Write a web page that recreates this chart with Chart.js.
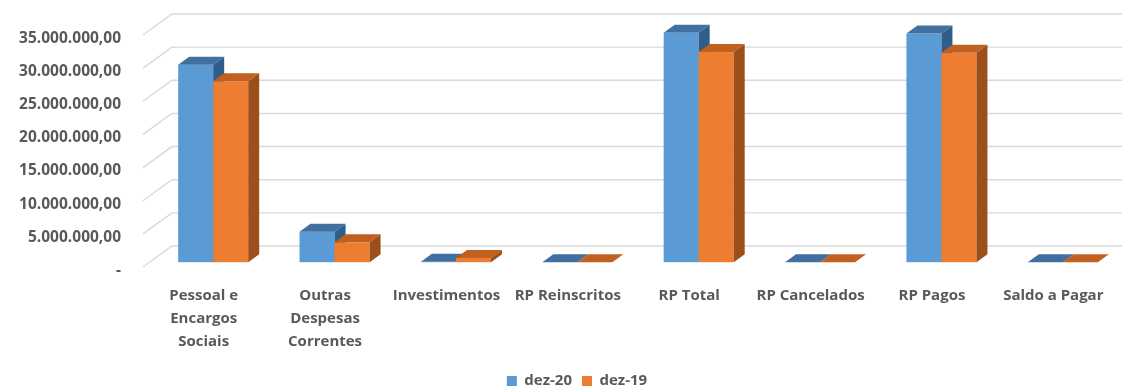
<!DOCTYPE html>
<html>
<head>
<meta charset="utf-8">
<script src="https://cdn.jsdelivr.net/npm/chart.js@4/dist/chart.umd.min.js"></script>
<style>
  html, body { margin: 0; padding: 0; background: #ffffff; }
  #wrap { width: 1125px; height: 389px; position: relative; }
</style>
</head>
<body>
<div id="wrap"><canvas id="chart" width="1125" height="389"></canvas></div>
<script>
// Categories (multi-line labels for the longer names)
const categories = [
  ['Pessoal e', 'Encargos', 'Sociais'],
  ['Outras', 'Despesas', 'Correntes'],
  'Investimentos',
  'RP Reinscritos',
  'RP Total',
  'RP Cancelados',
  'RP Pagos',
  'Saldo a Pagar'
];

// Amounts in R$
const dez20 = [29800000, 4600000, 60000, 0, 34600000, 0, 34500000, 0];
const dez19 = [27300000, 3000000, 650000, 0, 31700000, 0, 31600000, 0];

const seriesNames = ['dez-20', 'dez-19'];

// Value-axis labels, from 0 up to 35 million in steps of 5 million
const yTickLabels = ['-', '5.000.000,00', '10.000.000,00', '15.000.000,00',
  '20.000.000,00', '25.000.000,00', '30.000.000,00', '35.000.000,00'];

const FONT = '"Open Sans", "DejaVu Sans", sans-serif';
const TEXT = '#595959';

// Oblique projection offsets
const WALL = { dx: 29, dy: -21 };     // back wall relative to front plane
const SHIFT = { dx: 9.5, dy: -4.8 };  // bar front faces relative to front plane
const DEPTH = { dx: 11, dy: -8 };     // bar thickness

const faces = [
  { front: '#5B9BD5', top: '#40709F', side: '#2F5E8C' },
  { front: '#ED7D31', top: '#C2611F', side: '#9C4F1B' }
];

function drawBlock(ctx, p, f) {
  const l = p.x - p.width / 2, r = p.x + p.width / 2;
  const t = Math.min(p.y, p.base), b = Math.max(p.y, p.base);
  ctx.fillStyle = f.front;
  ctx.fillRect(l, t, r - l, b - t);
  ctx.fillStyle = f.top;
  ctx.beginPath();
  ctx.moveTo(l, t);
  ctx.lineTo(l + DEPTH.dx, t + DEPTH.dy);
  ctx.lineTo(r + DEPTH.dx, t + DEPTH.dy);
  ctx.lineTo(r, t);
  ctx.closePath();
  ctx.fill();
  ctx.fillStyle = f.side;
  ctx.beginPath();
  ctx.moveTo(r, t);
  ctx.lineTo(r + DEPTH.dx, t + DEPTH.dy);
  ctx.lineTo(r + DEPTH.dx, b + DEPTH.dy);
  ctx.lineTo(r, b);
  ctx.closePath();
  ctx.fill();
}

const threeD = {
  id: 'threeD',
  afterLayout(chart) {
    // legend sits a little right of the canvas centre, close to the bottom edge
    const lg = chart.legend;
    const h = lg.bottom - lg.top;
    lg.left += 20; lg.right += 20;
    lg.top = 381 - 10 - 7.5; lg.bottom = lg.top + h;
  },
  beforeDatasetsDraw(chart) {
    const ctx = chart.ctx;
    const y = chart.scales.y;
    const left = chart.chartArea.left;

    // side wall diagonals and back wall gridlines
    ctx.save();
    ctx.strokeStyle = '#D9D9D9';
    ctx.lineWidth = 1.4;
    for (let i = 0; i < yTickLabels.length; i++) {
      const py = y.getPixelForValue(i * 5000000);
      ctx.beginPath();
      ctx.moveTo(left, py);
      ctx.lineTo(left + WALL.dx, py + WALL.dy);
      ctx.lineTo(chart.width - 3, py + WALL.dy);
      ctx.stroke();
    }
    ctx.restore();

    // bars as blocks: dez-20 first, then dez-19 beside it
    ctx.save();
    ctx.translate(SHIFT.dx, SHIFT.dy);
    [0, 1].forEach(i => {
      chart.getDatasetMeta(i).data.forEach(bar => {
        drawBlock(ctx, bar.getProps(['x', 'y', 'base', 'width'], true), faces[i]);
      });
    });
    ctx.restore();
    // the flat default rectangles are replaced by the blocks above
    return false;
  }
};

new Chart(document.getElementById('chart'), {
  type: 'bar',
  data: {
    labels: categories,
    datasets: [
      { label: seriesNames[0], data: dez20, backgroundColor: faces[0].front },
      { label: seriesNames[1], data: dez19, backgroundColor: faces[1].front }
    ]
  },
  options: {
    responsive: false,
    animation: false,
    layout: { padding: { top: 35, right: 11, left: 0, bottom: 2 } },
    datasets: { bar: { categoryPercentage: 0.577, barPercentage: 1.0, borderWidth: 0 } },
    scales: {
      x: {
        grid: { display: false, drawTicks: false },
        border: { display: false },
        afterFit(scale) { scale.height = 85; },
        ticks: {
          color: TEXT, padding: 17, maxRotation: 0, autoSkip: false,
          font: { family: FONT, size: 15, weight: 'bold', lineHeight: 1.53 }
        }
      },
      y: {
        min: 0, max: 35000000,
        grid: { display: false, drawTicks: false },
        border: { display: false },
        afterFit(scale) { scale.width = 143; },
        ticks: {
          stepSize: 5000000, color: TEXT, padding: 22, labelOffset: 3.5,
          font: { family: FONT, size: 15.5, weight: 'bold' },
          callback: (v) => yTickLabels[Math.round(v / 5000000)]
        }
      }
    },
    plugins: {
      legend: {
        position: 'bottom',
        labels: {
          boxWidth: 10, boxHeight: 10, padding: 10,
          color: TEXT,
          font: { family: FONT, size: 15, weight: 'bold' }
        }
      },
      tooltip: { enabled: false }
    }
  },
  plugins: [threeD]
});
</script>
</body>
</html>
